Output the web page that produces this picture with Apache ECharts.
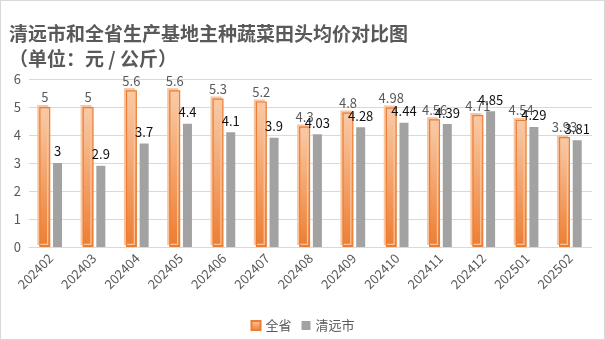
<!DOCTYPE html>
<html><head><meta charset="utf-8">
<script src="https://cdn.jsdelivr.net/npm/echarts@6/dist/echarts.min.js"></script>
<style>html,body{margin:0;padding:0;background:#fff}#c{width:603px;height:338px;border:1px solid #d9d9d9;}</style>
</head><body><div id="c"></div>
<script>
const categories = ['202402','202403','202404','202405','202406','202407','202408','202409','202410','202411','202412','202501','202502'];
const provinceValues = [5, 5, 5.6, 5.6, 5.3, 5.2, 4.3, 4.8, 4.98, 4.56, 4.71, 4.54, 3.93];
const qingyuanValues = [3, 2.9, 3.7, 4.4, 4.1, 3.9, 4.03, 4.28, 4.44, 4.39, 4.85, 4.29, 3.81];
const seriesNames = ['全省', '清远市'];
const titleText = '清远市和全省生产基地主种蔬菜田头均价对比图\n（单位：元 / 公斤）';

const chart = echarts.init(document.getElementById('c'));
const font = '"Noto Sans CJK SC", "Noto Sans", sans-serif';
chart.setOption({
  animation: false,
  textStyle: {fontFamily: font},
  title: {
    text: titleText, left: 3, top: 15,
    textStyle: {fontSize: 19, fontWeight: 'bold', color: '#595959', lineHeight: 25, fontFamily: font}
  },
  legend: {
    bottom: 2, left: 'center', itemWidth: 9, itemHeight: 9, itemGap: 10,
    textStyle: {fontSize: 13, color: '#595959'},
    data: [
      {name: seriesNames[0], icon: 'rect'},
      {name: seriesNames[1], icon: 'rect'}
    ]
  },
  grid: {left: 28, right: 12, top: 78, bottom: 92},
  xAxis: {
    type: 'category', data: categories,
    axisLine: {lineStyle: {color: '#d9d9d9'}},
    axisTick: {show: false},
    axisLabel: {rotate: 45, color: '#595959', fontSize: 13, margin: 9}
  },
  yAxis: {
    type: 'value', min: 0, max: 6, interval: 1,
    axisLabel: {color: '#595959', fontSize: 13, margin: 8},
    splitLine: {lineStyle: {color: '#d9d9d9'}},
    axisLine: {show: false}, axisTick: {show: false}
  },
  series: [
    {
      name: seriesNames[0], type: 'bar', data: provinceValues, barWidth: 11, barGap: '25%',
      itemStyle: {
        color: new echarts.graphic.LinearGradient(0, 0, 0, 1, [
          {offset: 0, color: '#f9cba8'}, {offset: 1, color: '#ed7d31'}
        ]),
        borderColor: '#ed7d31', borderWidth: 1.2,
        shadowColor: '#f8c5a0', shadowBlur: 0, shadowOffsetX: -2, shadowOffsetY: -2
      },
      label: {show: true, position: 'top', distance: 3, color: '#595959', fontSize: 13}
    },
    {
      name: seriesNames[1], type: 'bar', data: qingyuanValues, barWidth: 9,
      itemStyle: {color: '#a2a2a2'},
      label: {show: true, position: 'top', distance: 5, color: '#111', fontSize: 13}
    }
  ]
});
</script></body></html>
